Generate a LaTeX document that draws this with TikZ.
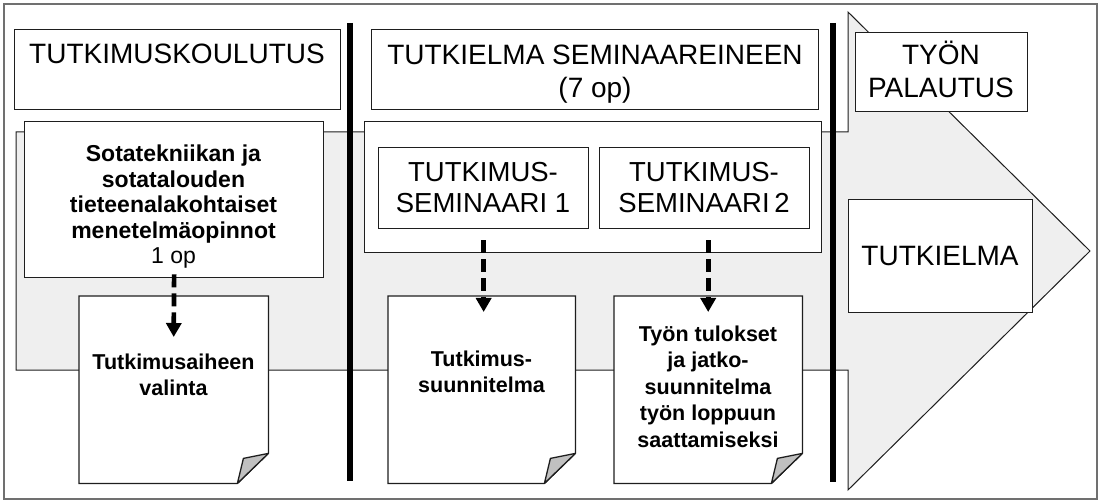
\documentclass[tikz,border=0pt]{standalone}
\usepackage{fontspec}
\setmainfont{Liberation Sans}
\usetikzlibrary{arrows.meta}
\definecolor{shaftgray}{HTML}{EFEFEF}
\definecolor{foldgray}{HTML}{C0C0C0}
\definecolor{framegray}{HTML}{707070}
\definecolor{boxline}{HTML}{1E1E1E}
\begin{document}
\begin{tikzpicture}[x=1pt,y=-1pt,
  box/.style={draw=boxline, line width=1.3pt, fill=white, inner sep=0pt, anchor=north west},
  ghost/.style={inner sep=0pt, anchor=north west},
  hdr/.style={font=\fontsize{28}{33}\selectfont, align=center, inner sep=0pt},
  semtxt/.style={font=\fontsize{27.5}{31}\selectfont, align=center, inner sep=0pt},
  methtxt/.style={font=\fontsize{23}{25.5}\selectfont, align=center, inner sep=0pt},
  doctxt/.style={font=\fontsize{21.5}{26.5}\selectfont\bfseries, align=center, inner sep=0pt},
  docline/.style={draw=boxline, line width=1.3pt, fill=white, line join=miter},
  fold/.style={draw=boxline, line width=1.3pt, fill=foldgray, line join=round},
  dasharrow/.style={line width=4.7pt, dash pattern=on 13pt off 6pt, -{Triangle[width=15pt,length=14pt]}},
  bar/.style={line width=5.5pt, black}
]
\useasboundingbox (0,0) rectangle (1102,502);
% outer frame
\draw[framegray, line width=1.5pt] (4,4) rectangle (1097,499);
% big arrow
\filldraw[fill=shaftgray, draw=boxline, line width=1pt, line join=miter]
  (16,132) -- (848,132) -- (848,12) -- (1090,251) -- (848,490) -- (848,370) -- (16,370) -- cycle;

% header boxes
\node[box, minimum width=326pt, minimum height=80pt] (tk) at (14,29) {};
\node[hdr] (tkt) at (177,54) {TUTKIMUSKOULUTUS};
\node[box, minimum width=447pt, minimum height=80pt] (ts) at (371,29) {};
\node[hdr] (tst) at (595,74.5) {TUTKIELMA SEMINAAREINEEN\\(7 op)};

% method studies box
\node[box, minimum width=299pt, minimum height=156pt] (sot) at (24,121) {};
\node[methtxt] (sott) at (173.5,207) {\textbf{Sotatekniikan ja}\\\textbf{sotatalouden}\\\textbf{tieteenalakohtaiset}\\\textbf{menetelmäopinnot}\\1 op};

% seminar container and seminar boxes
\node[box, minimum width=457pt, minimum height=131pt] (cont) at (364,121) {};
\node[box, minimum width=210pt, minimum height=81pt] (s1) at (378,147) {};
\node[semtxt] (s1t) at (483,188) {TUTKIMUS-\\SEMINAARI 1};
\node[box, minimum width=210pt, minimum height=81pt] (s2) at (599,147) {};
\node[semtxt] (s2t) at (704,188) {TUTKIMUS-\\SEMINAARI\,2};

% documents
\node[ghost, minimum width=189pt, minimum height=187pt] (d1) at (79,296) {};
\node[ghost, minimum width=187pt, minimum height=187pt] (d2) at (388,296) {};
\node[ghost, minimum width=188pt, minimum height=187pt] (d3) at (614,296) {};
\foreach \d in {d1,d2,d3}{
  \filldraw[docline] (\d.north west) -- (\d.north east) -- ([yshift=30pt]\d.south east)
    -- ([xshift=-31pt]\d.south east) -- (\d.south west) -- cycle;
  \filldraw[fold] ([xshift=-31pt]\d.south east) -- ([xshift=-25pt,yshift=25pt]\d.south east)
    -- ([yshift=30pt]\d.south east) -- cycle;
}
\node[doctxt] (d1t) at (173.5,375) {Tutkimusaiheen\\valinta};
\node[doctxt] (d2t) at (481.5,371.7) {Tutkimus-\\suunnitelma};
\node[doctxt] (d3t) at (708,386.6) {Työn tulokset\\ja jatko-\\suunnitelma\\työn loppuun\\saattamiseksi};

% right boxes
\node[box, minimum width=172pt, minimum height=79pt] (tp) at (855,32) {};
\node[hdr] (tpt) at (941,69) {TYÖN\\PALAUTUS};
\node[box, minimum width=184pt, minimum height=113pt] (tu) at (848,199) {};
\node[hdr] (tut) at (940,256) {TUTKIELMA};

% dashed arrows
\draw[dasharrow] ([yshift=4pt]sot.south) -- ([yshift=-41pt]d1.north);
\draw[dasharrow] ([yshift=-11pt]s1.south) -- ([yshift=-16pt]s1.south |- d2.north);
\draw[dasharrow] ([yshift=-11pt]s1.south -| d3.north) -- ([yshift=-16pt]d3.north);

% phase separators
\coordinate (b1a) at (350,23); \coordinate (b1b) at (350,481);
\coordinate (b2a) at (833,23); \coordinate (b2b) at (833,482);
\draw[bar] (b1a) -- (b1b);
\draw[bar] (b2a) -- (b2b);
\end{tikzpicture}
\end{document}
